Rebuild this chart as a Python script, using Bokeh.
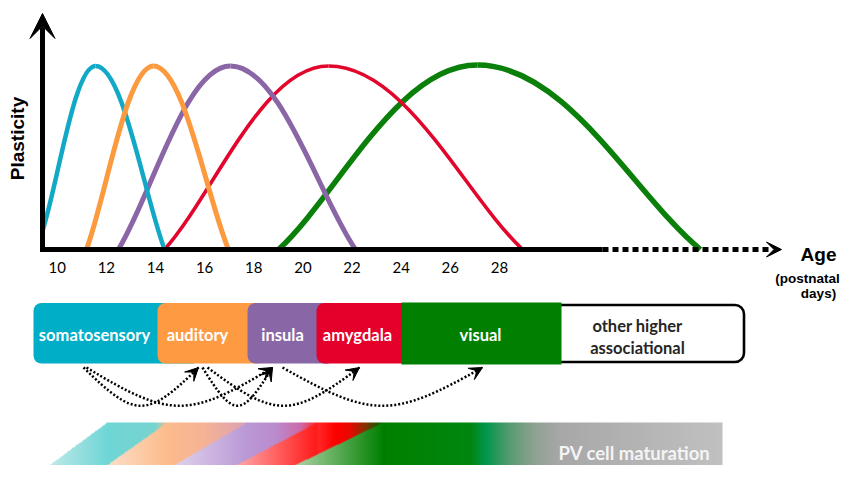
import numpy as np
from bokeh.plotting import figure
from bokeh.models import Range1d, Arrow, VeeHead, ColumnDataSource
from bokeh.core.properties import value
from bokeh.embed import file_html
from bokeh.resources import INLINE

# ---------------- data ----------------
day_ticks = [10, 12, 14, 16, 18, 20, 22, 24, 26, 28]
regions = ["somatosensory", "auditory", "insula", "amygdala", "visual"]
curve_colors = ["#12A9C7", "#FC9A40", "#8A66A6", "#E2062D", "#0A800A"]
onset_day = [9.40, 11.19, 12.49, 14.37, 19.01]
peak_day = [11.56, 13.92, 17.05, 21.04, 27.10]
offset_day = [14.37, 16.97, 22.14, 28.94, 36.18]
onset_plasticity = [0.10, 0.0, 0.0, 0.0, 0.0]
peak_plasticity = [1.0, 1.0, 1.0, 1.0, 1.005]
curve_widths = [4.5, 5.0, 5.0, 3.6, 5.5]

box_colors = ["#00AEC7", "#FD9A42", "#8966A5", "#E4002B", "#007F00"]
other_label = ["other higher", "associational"]

link_src = ["somatosensory", "somatosensory", "auditory", "auditory", "insula"]
link_dst = ["auditory", "insula", "insula", "amygdala", "visual"]

W, H = 842, 465

# ---------------- layout helpers (picture pixels) ----------------
def px_to_day(x):
    return 10 + (x - 56.7) / 24.57

def py_to_pl(y):
    return (249 - y) / 183.5

p = figure(width=W, height=H, output_backend="svg", toolbar_location=None,
           x_range=Range1d(0, W), y_range=Range1d(H, 0),
           x_axis_location=None, y_axis_location=None, min_border=0)
p.grid.visible = False
p.outline_line_color = None
p.background_fill_color = "white"
p.border_fill_color = "white"
p.extra_x_ranges = {"day": Range1d(px_to_day(0), px_to_day(W))}
p.extra_y_ranges = {"pl": Range1d(py_to_pl(H), py_to_pl(0)),
                    "img": Range1d(481 - H, 481)}

# ---------------- gradient strip (PV cell maturation) ----------------
gw, gh = 722, 59
GX, GY = np.meshgrid(np.arange(gw) + 0.5, np.arange(gh) + 0.5)
up = GY / gh
stops = [
    (107, 112, 214, 214), (155, 118, 212, 208), (167, 252, 188, 140),
    (205, 245, 178, 150), (244, 222, 162, 178), (247, 186, 152, 214),
    (275, 186, 140, 205), (300, 205, 105, 170), (317, 255, 40, 40),
    (335, 255, 0, 0), (350, 230, 10, 0), (365, 130, 50, 0),
    (378, 20, 90, 0), (385, 0, 128, 0), (470, 0, 135, 15),
    (485, 0, 150, 75), (510, 90, 155, 115), (535, 145, 162, 148),
    (560, 168, 168, 168), (722, 193, 193, 193)]
st = np.array(stops, dtype=float)
top = np.stack([np.interp(GX, st[:, 0], st[:, c]) for c in (1, 2, 3)], axis=-1)
bands = [
    (27, 107, (222, 241, 241), (112, 214, 214)),
    (84, 167, (255, 236, 224), (252, 188, 140)),
    (146, 247, (238, 233, 245), (186, 152, 214)),
    (205, 317, (255, 222, 222), (255, 25, 25)),
    (261, 383, (240, 245, 228), (0, 128, 0)),
]
rgba = np.zeros((gh, gw, 4), dtype=np.uint8)
for xb, xt, pale, full in bands:
    edge = xb + (xt - xb) * up
    mask = GX >= edge
    f = np.clip((GX - xb) / (xt - xb), 0, 1)[..., None]
    low = np.array(pale, float) + (np.array(full, float) - np.array(pale, float)) * f
    col = np.where((GX < xt)[..., None], low, top)
    rgba[mask, :3] = col[mask].astype(np.uint8)
    rgba[mask, 3] = 255
img = np.ascontiguousarray(rgba).view(np.uint32).reshape(gh, gw)
p.image_rgba(image=[img], x=0, y=0, dw=gw, dh=gh, y_range_name="img")
p.text(x=[634], y=[452], text=["PV cell maturation"], text_color="#F4F4F4",
       text_font=value("Lato"), text_font_style="bold", text_font_size="18.5px",
       text_align="center", text_baseline="middle")

# ---------------- plasticity curves ----------------
order = [4, 3, 2, 0, 1]
for i in order:
    s, pk, e = onset_day[i], peak_day[i], offset_day[i]
    h0, h = onset_plasticity[i], peak_plasticity[i]
    src = ColumnDataSource(dict(
        x0=[s, pk], y0=[h0, h], x1=[pk, e], y1=[h, 0.0],
        cx0=[s + 0.3 * (pk - s), pk + 0.4 * (e - pk)],
        cy0=[h0 + 0.3 * (h - h0), h],
        cx1=[pk - 0.4 * (pk - s), e - 0.3 * (e - pk)],
        cy1=[h, 0.3 * h]))
    p.bezier(x0="x0", y0="y0", x1="x1", y1="y1", cx0="cx0", cy0="cy0",
             cx1="cx1", cy1="cy1", source=src, line_color=curve_colors[i],
             line_width=curve_widths[i], x_range_name="day", y_range_name="pl")

# ---------------- axes ----------------
p.segment(x0=[39.5], y0=[249], x1=[602], y1=[249], line_color="black", line_width=5)
p.segment(x0=[602], y0=[249], x1=[772], y1=[249], line_color="black",
          line_width=5, line_dash="6 4")
p.add_layout(Arrow(x_start=770, y_start=249, x_end=781, y_end=249, line_alpha=0,
                   end=VeeHead(size=15, fill_color="black", line_color="black")))
p.add_layout(Arrow(x_start=42, y_start=251.5, x_end=42, y_end=13, line_width=5,
                   end=VeeHead(size=25, fill_color="black", line_color="black")))
p.text(x=day_ticks, y=[267] * len(day_ticks), text=[str(d) for d in day_ticks],
       x_range_name="day", text_font=value("Lato"), text_font_size="15px",
       text_color="black", text_align="center", text_baseline="middle")
p.text(x=[17], y=[138], text=["Plasticity"], angle=np.pi / 2,
       text_font=value("Liberation Sans"), text_font_style="bold",
       text_font_size="19px", text_align="center", text_baseline="middle")
p.text(x=[818, 807, 818], y=[254, 278, 293], text=["Age", "(postnatal", "days)"],
       text_font=value("Liberation Sans"), text_font_style="bold",
       text_font_size=["19px", "13.5px", "13.5px"], text_align="center",
       text_baseline="middle")

# ---------------- region boxes ----------------
box_left = [33, 157, 247, 316, 401]
box_right = [200, 265, 335, 420, 561]
for i in range(4):
    p.quad(left=[box_left[i]], right=[box_right[i]], top=[302.5], bottom=[363],
           fill_color=box_colors[i], line_color=None, border_radius=8)
p.quad(left=[540], right=[743.5], top=[304.5], bottom=[361.5], fill_color="white",
       line_color="black", line_width=2.6, border_radius=9)
p.quad(left=[box_left[4]], right=[box_right[4]], top=[302], bottom=[364],
       fill_color=box_colors[4], line_color=None)
label_x = [94, 197, 282, 357, 480]
p.text(x=label_x, y=[334] * 5, text=regions, text_color="white",
       text_font=value("Lato"), text_font_style="bold", text_font_size="16.5px",
       text_align="center", text_baseline="middle")
p.text(x=[637, 637], y=[325, 347], text=other_label, text_color="#262626",
       text_font=value("Lato"), text_font_style="bold", text_font_size="16.5px",
       text_align="center", text_baseline="middle")

# ---------------- spread arrows ----------------
anchor_out = {"somatosensory": 83, "auditory": 202, "insula": 282}
anchor_in = {"auditory": 198, "insula": 272, "amygdala": 359, "visual": 482}
x0 = []
x1 = []
for a, b in zip(link_src, link_dst):
    off = 3 if (a == "somatosensory" and b == "insula") else 0
    off += 5 if (a == "auditory" and b == "amygdala") else 0
    x0.append(anchor_out[a] + off)
    x1.append(anchor_in[b])
x0 = np.array(x0, float)
x1 = np.array(x1, float)
w = x1 - x0
yc = 418.0
ys = 367.0
lsrc = ColumnDataSource(dict(x0=x0, y0=[ys] * 5, x1=x1, y1=[ys] * 5,
                             cx0=x0 + 0.45 * w, cy0=[yc] * 5,
                             cx1=x1 - 0.45 * w, cy1=[yc] * 5))
p.bezier(x0="x0", y0="y0", x1="x1", y1="y1", cx0="cx0", cy0="cy0", cx1="cx1",
         cy1="cy1", source=lsrc, line_color="black", line_width=2.5, line_dash="2 2")
p.add_layout(Arrow(x_start="cx1", y_start="cy1", x_end="x1", y_end="y1",
                   source=lsrc, line_alpha=0,
                   end=VeeHead(size=13, fill_color="black", line_color="black")))

open("out.html", "w").write(file_html(p, INLINE))
